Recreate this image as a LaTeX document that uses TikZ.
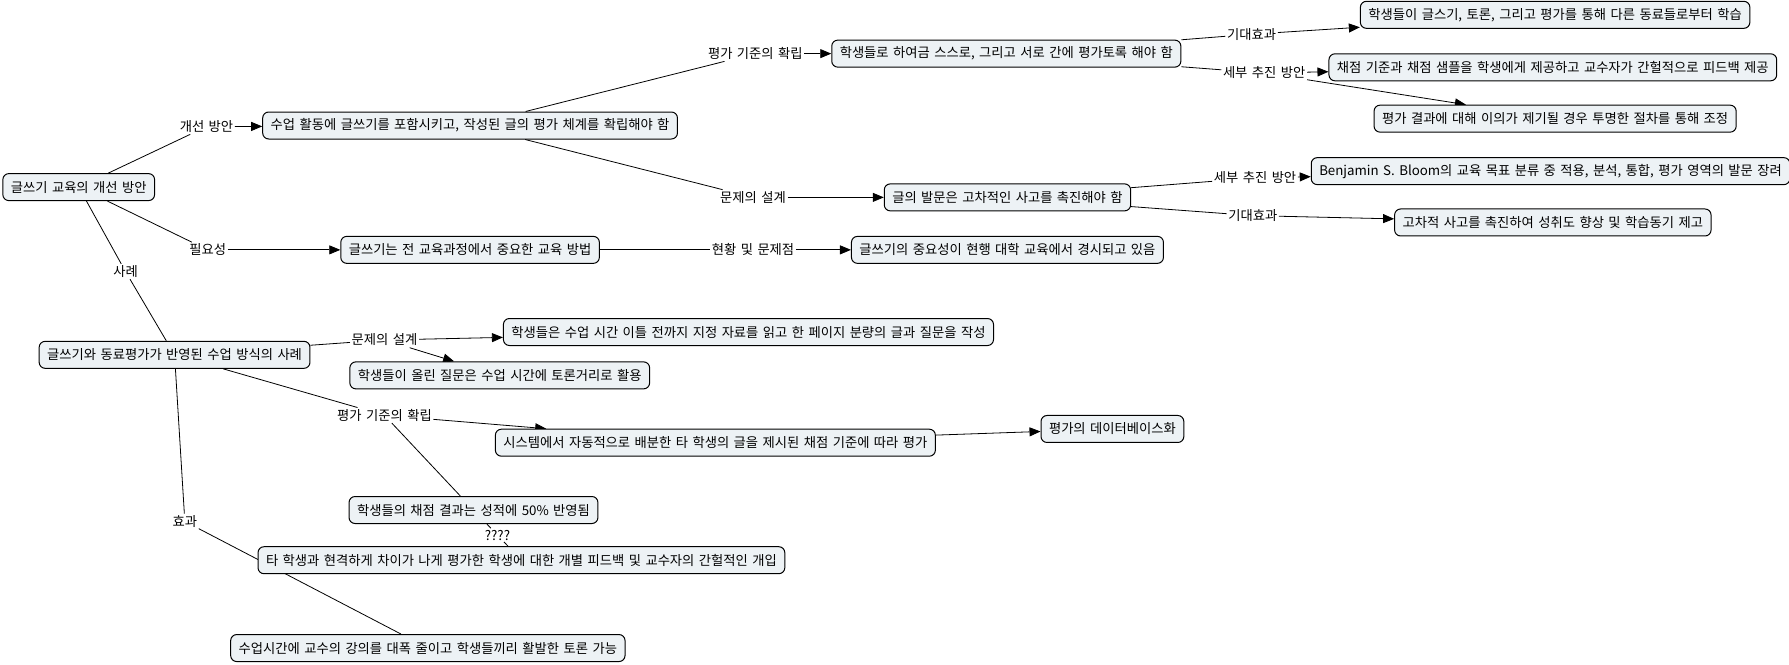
\documentclass[tikz,border=0pt]{standalone}
\usepackage{fontspec}
\setmainfont[WordSpace=1.5]{Noto Sans CJK KR}
\usetikzlibrary{arrows.meta}
\pgfdeclarelayer{bg}
\pgfsetlayers{bg,main}
\definecolor{boxfill}{RGB}{237,242,245}
\tikzset{
  concept/.style={draw=black, line width=1pt, fill=boxfill, rounded corners=6pt,
    inner xsep=8pt, inner ysep=0pt, minimum height=27pt,
    font=\fontsize{13.3}{15}\selectfont},
  linkph/.style={inner sep=1.5pt, font=\fontsize{13.3}{15}\selectfont},
  conn/.style={draw=black, line width=0.8pt},
  arr/.style={conn, -{Triangle[length=11pt,width=9pt]}}
}
\begin{document}
\begin{tikzpicture}[x=1.141pt, y=-1.141pt]
\useasboundingbox (0,0) rectangle (1568,582);
% concepts
\node[concept] (root) at (69,164) {글쓰기 교육의 개선 방안};
\node[concept] (sueop) at (412,110) {수업 활동에 글쓰기를 포함시키고, 작성된 글의 평가 체계를 확립해야 함};
\node[concept] (hak1) at (882,47) {학생들로 하여금 스스로, 그리고 서로 간에 평가토록 해야 함};
\node[concept] (dongryo) at (1363,13) {학생들이 글스기, 토론, 그리고 평가를 통해 다른 동료들로부터 학습};
\node[concept] (chaejeom) at (1361,59) {채점 기준과 채점 샘플을 학생에게 제공하고 교수자가 간헐적으로 피드백 제공};
\node[concept] (ieui) at (1363,104) {평가 결과에 대해 이의가 제기될 경우 투명한 절차를 통해 조정};
\node[concept] (balmun) at (883,173) {글의 발문은 고차적인 사고를 촉진해야 함};
\node[concept] (bloom) at (1359,150) {Benjamin S. Bloom의 교육 목표 분류 중 적용, 분석, 통합, 평가 영역의 발문 장려};
\node[concept] (gocha) at (1361,195) {고차적 사고를 촉진하여 성취도 향상 및 학습동기 제고};
\node[concept] (jeon) at (412,219) {글쓰기는 전 교육과정에서 중요한 교육 방법};
\node[concept] (gyeongsi) at (883,219) {글쓰기의 중요성이 현행 대학 교육에서 경시되고 있음};
\node[concept] (sarye) at (153,311) {글쓰기와 동료평가가 반영된 수업 방식의 사례};
\node[concept] (iteul) at (656,291) {학생들은 수업 시간 이틀 전까지 지정 자료를 읽고 한 페이지 분량의 글과 질문을 작성};
\node[concept] (toron) at (438,329) {학생들이 올린 질문은 수업 시간에 토론거리로 활용};
\node[concept] (system) at (627,388) {시스템에서 자동적으로 배분한 타 학생의 글을 제시된 채점 기준에 따라 평가};
\node[concept] (db) at (975,376) {평가의 데이터베이스화};
\node[concept] (oship) at (415,447) {학생들의 채점 결과는 성적에 50\% 반영됨};
\node[concept] (ta) at (457,491) {타 학생과 현격하게 차이가 나게 평가한 학생에 대한 개별 피드백 및 교수자의 간헐적인 개입};
\node[concept] (lecture) at (375,568) {수업시간에 교수의 강의를 대폭 줄이고 학생들끼리 활발한 토론 가능};
% linking phrases
\node[linkph] (lgaeseon) at (181,111) {개선 방안};
\node[linkph] (lpyeong1) at (662,47) {평가 기준의 확립};
\node[linkph] (lgidae1) at (1097,30) {기대효과};
\node[linkph] (lsebu1) at (1108,64) {세부 추진 방안};
\node[linkph] (lmunje1) at (660,173) {문제의 설계};
\node[linkph] (lsebu2) at (1100,156) {세부 추진 방안};
\node[linkph] (lgidae2) at (1098,189) {기대효과};
\node[linkph] (lpilyo) at (182,219) {필요성};
\node[linkph] (lhyeon) at (660,219) {현황 및 문제점};
\node[linkph] (lsarye) at (110,238) {사례};
\node[linkph] (lmunje2) at (337,298) {문제의 설계};
\node[linkph] (lpyeong2) at (337,364) {평가 기준의 확립};
\node[linkph] (lq) at (436,469) {????};
\node[linkph] (lhyogwa) at (162,457) {효과};
% connectors
\begin{pgfonlayer}{bg}
\draw[conn] (root) -- (lgaeseon);
\draw[arr] (lgaeseon) -- (sueop);
\draw[conn] (sueop) -- (lpyeong1);
\draw[arr] (lpyeong1) -- (hak1);
\draw[conn] (hak1) -- (lgidae1);
\draw[arr] (lgidae1) -- (dongryo);
\draw[conn] (hak1) -- (lsebu1);
\draw[arr] (lsebu1) -- (chaejeom);
\draw[arr] (lsebu1) -- (ieui);
\draw[conn] (sueop) -- (lmunje1);
\draw[arr] (lmunje1) -- (balmun);
\draw[conn] (balmun) -- (lsebu2);
\draw[arr] (lsebu2) -- (bloom);
\draw[conn] (balmun) -- (lgidae2);
\draw[arr] (lgidae2) -- (gocha);
\draw[conn] (root) -- (lpilyo);
\draw[arr] (lpilyo) -- (jeon);
\draw[conn] (jeon) -- (lhyeon);
\draw[arr] (lhyeon) -- (gyeongsi);
\draw[conn] (root) -- (lsarye);
\draw[conn] (lsarye) -- (sarye);
\draw[conn] (sarye) -- (lmunje2);
\draw[arr] (lmunje2) -- (iteul);
\draw[arr] (lmunje2) -- (toron);
\draw[conn] (sarye) -- (lpyeong2);
\draw[arr] (lpyeong2) -- (system);
\draw[conn] (lpyeong2) -- (oship);
\draw[arr] (system) -- (db);
\draw[conn] (oship) -- (lq);
\draw[conn] (lq) -- (ta);
\draw[conn] (sarye) -- (lhyogwa);
\draw[conn] (lhyogwa) -- (lecture);
\end{pgfonlayer}
\end{tikzpicture}
\end{document}
